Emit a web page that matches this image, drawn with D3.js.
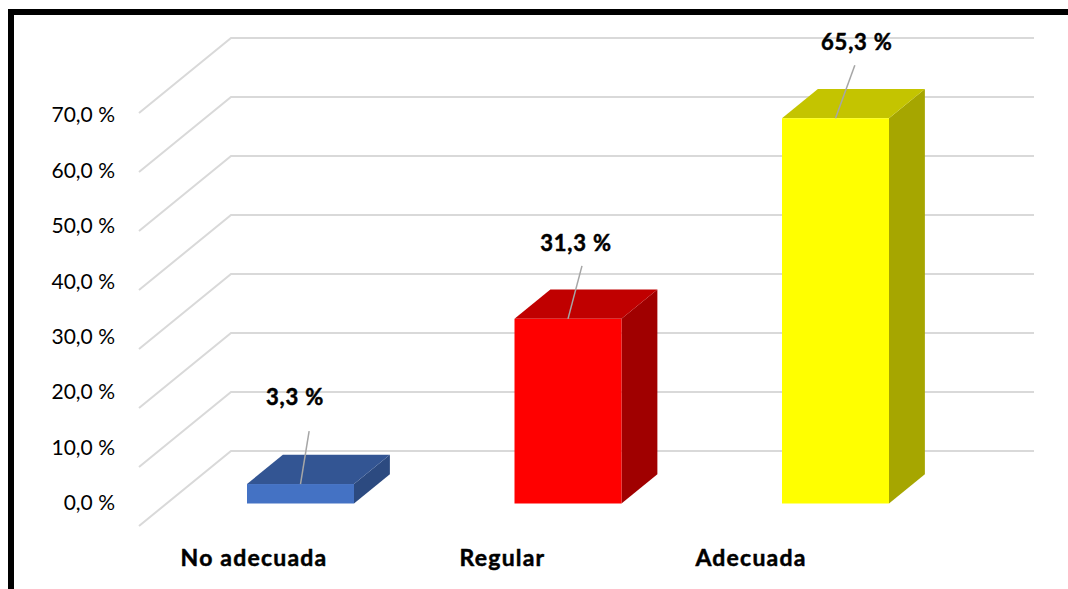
<!DOCTYPE html>
<html>
<head>
<meta charset="utf-8">
<script src="https://cdn.jsdelivr.net/npm/d3@7/dist/d3.min.js"></script>
<style>
  html, body { margin: 0; padding: 0; background: #fff; }
  svg { display: block; }
</style>
</head>
<body>
<svg id="chart" width="1068" height="589"></svg>
<script>
// Chart data
const categories = ["No adecuada", "Regular", "Adecuada"];
const values = [3.3, 31.3, 65.3];
const tickValues = [0, 10, 20, 30, 40, 50, 60, 70];
const tickLabels = ["0,0 %", "10,0 %", "20,0 %", "30,0 %", "40,0 %", "50,0 %", "60,0 %", "70,0 %"];
const valueLabels = ["3,3 %", "31,3 %", "65,3 %"];
const frontColors = ["#4472C4", "#FF0000", "#FFFF00"];
const topColors = ["#335593", "#C00000", "#C4C400"];
const sideColors = ["#2C4A80", "#A00000", "#A6A600"];

const svg = d3.select("#chart");

// Projection of the 3D box: floor depth goes up and to the right
const floorDX = 92, floorDY = -75;      // full floor depth (front edge -> back wall)
const barFront = 0.30, barDepth = 0.39; // bar placement within the floor depth

// Value scale along the front edge of the floor
const yFront = d3.scaleLinear().domain([0, 70]).range([526, 113]);
const xFloorFront = 139, xWallRight = 1034;
const yAt = (v, d) => yFront(v) + floorDY * d;
const xShift = d => floorDX * d;

// Bars
const x = d3.scaleBand().domain(categories).range([113.25, 1022.75])
  .paddingInner(0.6).paddingOuter(0.5);

// Axis labels on the left
const yLabel = d3.scaleLinear().domain([0, 70]).range([503, 115]);
// Category labels
const xLabel = d3.scalePoint().domain(categories).range([254, 751]);

const fontStack = "Lato, 'Open Sans', sans-serif";

// Gridlines: floor diagonal + back wall line
const grid = svg.append("g").attr("fill", "none").attr("stroke", "#D9D9D9").attr("stroke-width", 2);
tickValues.forEach(v => {
  grid.append("path").attr("d", d3.line()([
    [xFloorFront, yAt(v, 0)],
    [xFloorFront + xShift(1), yAt(v, 1)],
    [xWallRight, yAt(v, 1)]
  ]));
});

// Y tick labels
svg.append("g").selectAll("text").data(tickValues).join("text")
  .attr("x", 115)
  .attr("y", v => yLabel(v))
  .attr("dy", "0.35em")
  .attr("text-anchor", "end")
  .attr("font-family", fontStack)
  .attr("font-size", 21)
  .attr("fill", "#000")
  .text((v, i) => tickLabels[i]);

// 3D bars
const bars = svg.append("g");
categories.forEach((c, i) => {
  const x0 = x(c), x1 = x0 + x.bandwidth();
  const yt = yAt(values[i], barFront), yb = yAt(0, barFront);
  const dx = xShift(barDepth), dy = floorDY * barDepth;
  const g = bars.append("g");
  g.append("path").attr("fill", sideColors[i])
    .attr("d", d3.line()([[x1, yt], [x1 + dx, yt + dy], [x1 + dx, yb + dy], [x1, yb]]) + "Z");
  g.append("path").attr("fill", topColors[i])
    .attr("d", d3.line()([[x0, yt], [x1, yt], [x1 + dx, yt + dy], [x0 + dx, yt + dy]]) + "Z");
  g.append("rect").attr("fill", frontColors[i])
    .attr("x", x0).attr("y", yt).attr("width", x1 - x0).attr("height", yb - yt);

  // Data label with leader line
  const cx = (x0 + x1) / 2;
  const lean = 14 + (cx - 569) * 0.02;
  const leaderTopX = cx + lean, leaderTopY = yt - 53;
  const gap = values[i] < 10 ? 26 : 15;
  g.append("line")
    .attr("x1", cx).attr("y1", yt).attr("x2", leaderTopX).attr("y2", leaderTopY)
    .attr("stroke", "#A6A6A6").attr("stroke-width", 1.5);
  g.append("text")
    .attr("x", leaderTopX - 6 + (cx - 569) * 0.03)
    .attr("y", leaderTopY - gap)
    .attr("text-anchor", "middle")
    .attr("font-family", fontStack)
    .attr("font-weight", "bold")
    .attr("font-size", 22)
    .attr("letter-spacing", 0.8)
    .attr("stroke", "#000").attr("stroke-width", 0.5)
    .attr("fill", "#000")
    .text(valueLabels[i]);
});

// Category labels
svg.append("g").selectAll("text").data(categories).join("text")
  .attr("x", d => xLabel(d))
  .attr("y", 566)
  .attr("text-anchor", "middle")
  .attr("font-family", fontStack)
  .attr("font-weight", "bold")
  .attr("font-size", 23)
  .attr("letter-spacing", 1.2)
  .attr("stroke", "#000").attr("stroke-width", 0.5)
  .attr("fill", "#000")
  .text(d => d);

// Outer frame
svg.append("rect")
  .attr("x", 11).attr("y", 12).attr("width", 1200).attr("height", 800)
  .attr("fill", "none").attr("stroke", "#000").attr("stroke-width", 6);
</script>
</body>
</html>
